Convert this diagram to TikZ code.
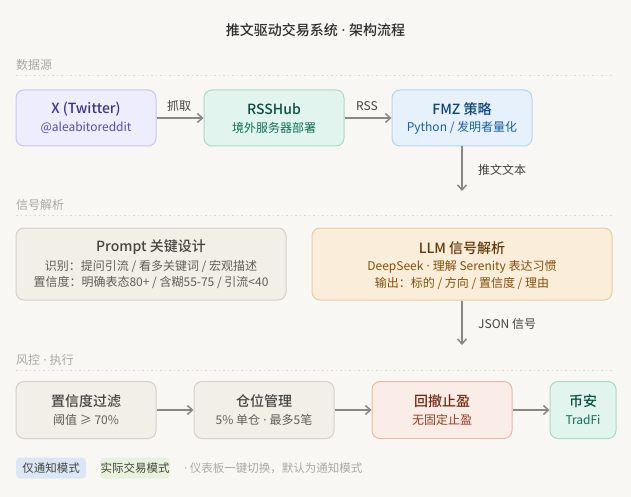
\documentclass[tikz,border=0pt]{standalone}
\usepackage{fontspec}
\setmainfont{Noto Sans CJK SC}[BoldFont={Noto Sans CJK SC Medium}]
\newfontfamily\lat{Noto Sans}
\newcommand\mdot{{\lat\ ·\ }}
\usetikzlibrary{arrows.meta}
\definecolor{bg}{HTML}{F8F7F4}
\definecolor{p50}{HTML}{EEEDFE}\definecolor{p100}{HTML}{C9C4F2}\definecolor{p600}{HTML}{534AB7}\definecolor{p800}{HTML}{3C3489}
\definecolor{t50}{HTML}{E1F5EE}\definecolor{t100}{HTML}{A8D9C6}\definecolor{t600}{HTML}{0F6E56}\definecolor{t800}{HTML}{085041}
\definecolor{b50}{HTML}{E6F1FB}\definecolor{b100}{HTML}{B5D4F4}\definecolor{b600}{HTML}{185FA5}\definecolor{b800}{HTML}{0C447C}
\definecolor{g50}{HTML}{F1EFE8}\definecolor{g100}{HTML}{D3D1C7}\definecolor{g600}{HTML}{5F5E5A}\definecolor{g800}{HTML}{444441}\definecolor{g900}{HTML}{2C2C2A}
\definecolor{a50}{HTML}{FAEEDA}\definecolor{a100}{HTML}{E8CDA3}\definecolor{a600}{HTML}{854F0B}\definecolor{a800}{HTML}{633806}
\definecolor{c50}{HTML}{FAECE7}\definecolor{c100}{HTML}{EDB8A6}\definecolor{c600}{HTML}{993C1D}\definecolor{c800}{HTML}{712B13}
\definecolor{arrgray}{HTML}{888780}
\definecolor{secgray}{HTML}{AAA9A2}
\definecolor{sepgray}{HTML}{DCDAD3}
\definecolor{lblgray}{HTML}{444441}
\definecolor{legblue}{HTML}{DCE7F6}
\definecolor{leggreen}{HTML}{E8F1DC}
\begin{document}
\begin{tikzpicture}[x=1pt,y=-1pt,
  box/.style={draw, rounded corners=8pt, line width=1pt, inner sep=0pt},
  smallbox/.style={box, minimum width=140pt, minimum height=56pt},
  ttl/.style={font=\bfseries\fontsize{14}{16}\selectfont, inner sep=0pt},
  sub/.style={font=\fontsize{12}{14}\selectfont, inner sep=0pt},
  sec/.style={font=\fontsize{12}{14}\selectfont, text=secgray, anchor=west, inner sep=0pt},
  lbl/.style={font=\fontsize{12}{14}\selectfont, text=lblgray, inner sep=0pt},
  arr/.style={draw=arrgray, line width=1.5pt, -{Straight Barb[length=5pt,width=9pt]}},
  sepline/.style={draw=sepgray, line width=1pt, dash pattern=on 1.5pt off 3pt},
  pill/.style={rounded corners=4pt, minimum width=70pt, minimum height=21pt, inner sep=0pt, font=\fontsize{11.5}{13}\selectfont, text=g800}]
\fill[bg] (0,0) rectangle (631,497);
\useasboundingbox (0,0) rectangle (631,497);

% title
\node[font=\bfseries\fontsize{14}{16}\selectfont, text=g900, inner sep=0pt] (title) at (315.5,30) {推文驱动交易系统\mdot 架构流程};

% section 1
\node[sec] (s1) at (16,65) {数据源};
\draw[sepline] (16,76) -- (614,76);

\node[smallbox, fill=p50, draw=p100] (x) at (86,118) {};
\node[ttl, text=p800] (xt) at (86,109) {X (Twitter)};
\node[sub, text=p600] (xs) at (86,128) {@aleabitoreddit};

\node[smallbox, fill=t50, draw=t100] (rss) at (274,118) {};
\node[ttl, text=t800] (rsst) at (274,109) {RSSHub};
\node[sub, text=t600] (rsss) at (274,128) {境外服务器部署};

\node[smallbox, fill=b50, draw=b100] (fmz) at (462,118) {};
\node[ttl, text=b800] (fmzt) at (462,109) {FMZ 策略};
\node[sub, text=b600] (fmzs) at (462,128) {Python / 发明者量化};

\draw[arr] (x) -- (rss);
\node[lbl] (l1) at (179,106) {抓取};
\draw[arr] (rss) -- (fmz);
\node[lbl] (l2) at (367,106) {RSS};

\coordinate (fmzend) at (462,191);
\draw[arr] (fmz) -- (fmzend);
\node[lbl, anchor=west] (l3) at (478,170) {推文文本};

% section 2
\node[sec] (s2) at (16,205) {信号解析};
\draw[sepline] (16,215.5) -- (614,215.5);

\node[box, fill=g50, draw=g100, minimum width=270pt, minimum height=72pt] (prompt) at (151,264) {};
\node[ttl, text=g800] (pt) at (151,247) {Prompt 关键设计};
\node[sub, text=g600] (p1) at (151,266) {识别：提问引流 / 看多关键词 / 宏观描述};
\node[sub, text=g600] (p2) at (151,283) {置信度：明确表态80+ / 含糊55-75 / 引流<40};

\node[box, fill=a50, draw=a100, minimum width=300pt, minimum height=72pt] (llm) at (462,264) {};
\node[ttl, text=a800] (lt) at (462,248) {LLM 信号解析};
\node[sub, text=a600] (l1a) at (462,267) {DeepSeek\mdot 理解 Serenity 表达习惯};
\node[sub, text=a600] (l2a) at (462,283) {输出：标的 / 方向 / 置信度 / 理由};

\coordinate (llmend) at (462,345);
\draw[arr] (llm) -- (llmend);
\node[lbl, anchor=west] (l4) at (478,324) {JSON 信号};

% section 3
\node[sec] (s3) at (16,360) {风控\mdot 执行};
\draw[sepline] (16,370) -- (614,370);

\node[smallbox, fill=g50, draw=g100, minimum height=57pt] (f1) at (86,410) {};
\node[ttl, text=g800] (f1t) at (86,401) {置信度过滤};
\node[sub, text=g600] (f1s) at (86,420) {阈值 ≥ 70\%};

\node[smallbox, fill=g50, draw=g100, minimum height=57pt] (f2) at (264,410) {};
\node[ttl, text=g800] (f2t) at (264,401) {仓位管理};
\node[sub, text=g600] (f2s) at (264,420) {5\% 单仓\mdot 最多5笔};

\node[smallbox, fill=c50, draw=c100, minimum height=57pt] (f3) at (442,410) {};
\node[ttl, text=c800] (f3t) at (442,401) {回撤止盈};
\node[sub, text=c600] (f3s) at (442,420) {无固定止盈};

\node[box, fill=t50, draw=t100, minimum width=66pt, minimum height=57pt] (f4) at (583,410) {};
\node[ttl, text=t800] (f4t) at (583,401) {币安};
\node[sub, text=t600] (f4s) at (583,420) {TradFi};

\draw[arr] (f1) -- (f2);
\draw[arr] (f2) -- (f3);
\draw[arr] (f3) -- (f4);

% legend
\node[pill, fill=legblue] (lg1) at (51,468) {仅通知模式};
\node[pill, fill=leggreen] (lg2) at (135,468) {实际交易模式};
\node[font=\fontsize{11.5}{13}\selectfont, text=secgray, anchor=west, inner sep=0pt] (lgt) at (184,468) {{\lat ·} 仪表板一键切换，默认为通知模式};
\end{tikzpicture}
\end{document}
